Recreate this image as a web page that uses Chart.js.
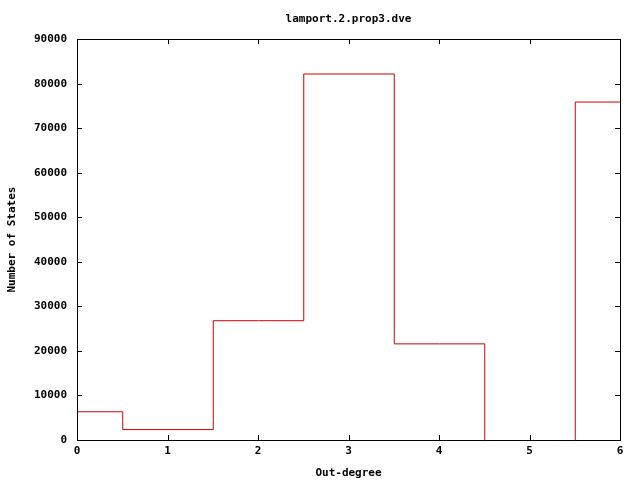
<!DOCTYPE html>
<html>
<head>
<meta charset="utf-8">
<script src="https://cdn.jsdelivr.net/npm/chart.js@4"></script>
<style>
  html, body { margin: 0; padding: 0; background: #fff; }
  canvas { display: block; }
</style>
</head>
<body>
<canvas id="histChart" width="640" height="480"></canvas>
<script>
// Out-degree histogram data
const outDegrees = [0, 1, 2, 3, 4, 5, 6];
const stateCounts = [6450, 2450, 26900, 82300, 21700, 0, 76000];
const xTicks = [0, 1, 2, 3, 4, 5, 6];
const yTicks = [0, 10000, 20000, 30000, 40000, 50000, 60000, 70000, 80000, 90000];

const monoFont = { family: "'DejaVu Sans Mono', monospace", size: 11, weight: 'bold' };

// Gnuplot-like frame: full border with inward tick marks on all four sides
const framePlugin = {
    id: 'frame',
    beforeDatasetsDraw(chart) {
        // shift half a pixel so the 1px steps come out crisp
        chart.ctx.save();
        chart.ctx.translate(0.5, 0.5);
    },
    afterDatasetsDraw(chart) {
        chart.ctx.restore();
        const { ctx, chartArea: a, scales } = chart;
        const len = 5;
        ctx.save();
        ctx.strokeStyle = '#000';
        ctx.lineWidth = 1;
        ctx.beginPath();
        xTicks.forEach(v => {
            const px = Math.round(scales.x.getPixelForValue(v)) + 0.5;
            ctx.moveTo(px, a.bottom); ctx.lineTo(px, a.bottom - len);
            ctx.moveTo(px, a.top); ctx.lineTo(px, a.top + len);
        });
        yTicks.forEach(v => {
            const py = Math.round(scales.y.getPixelForValue(v)) + 0.5;
            ctx.moveTo(a.left, py); ctx.lineTo(a.left + len, py);
            ctx.moveTo(a.right, py); ctx.lineTo(a.right - len, py);
        });
        ctx.stroke();
        ctx.strokeRect(Math.round(a.left) + 0.5, Math.round(a.top) + 0.5,
            Math.round(a.right - a.left), Math.round(a.bottom - a.top));
        ctx.restore();
    }
};

const ctx = document.getElementById('histChart').getContext('2d');
new Chart(ctx, {
    type: 'line',
    data: {
        datasets: [{
            data: outDegrees.map((d, i) => ({ x: d, y: stateCounts[i] })),
            stepped: 'middle',
            borderColor: 'rgb(205, 0, 0)',
            borderWidth: 1,
            pointRadius: 0,
            fill: false
        }]
    },
    options: {
        responsive: false,
        animation: false,
        layout: { padding: { left: 0, right: 20, top: 0, bottom: 0 } },
        plugins: {
            legend: { display: false },
            tooltip: { enabled: false },
            title: {
                display: true,
                fullSize: false,
                text: 'lamport.2.prop3.dve',
                color: '#000',
                font: monoFont,
                padding: { top: 13, bottom: 13 }
            }
        },
        scales: {
            x: {
                type: 'linear',
                min: 0,
                max: 6,
                afterBuildTicks: axis => { axis.ticks = xTicks.map(v => ({ value: v })); },
                afterFit: axis => { axis.height = 40; },
                ticks: { color: '#000', font: monoFont, padding: 5, maxRotation: 0 },
                grid: { display: false, drawTicks: false },
                border: { display: false },
                title: {
                    display: true,
                    text: 'Out-degree',
                    color: '#000',
                    font: monoFont,
                    padding: { top: 0, bottom: 0 }
                }
            },
            y: {
                min: 0,
                max: 90000,
                afterBuildTicks: axis => { axis.ticks = yTicks.map(v => ({ value: v })); },
                afterFit: axis => { axis.width = 77; },
                ticks: { color: '#000', font: monoFont, padding: 10, callback: v => String(v) },
                grid: { display: false, drawTicks: false },
                border: { display: false },
                title: {
                    display: true,
                    text: 'Number of States',
                    color: '#000',
                    font: monoFont,
                    padding: { top: 6, bottom: 2 }
                }
            }
        }
    },
    plugins: [framePlugin]
});
</script>
</body>
</html>
